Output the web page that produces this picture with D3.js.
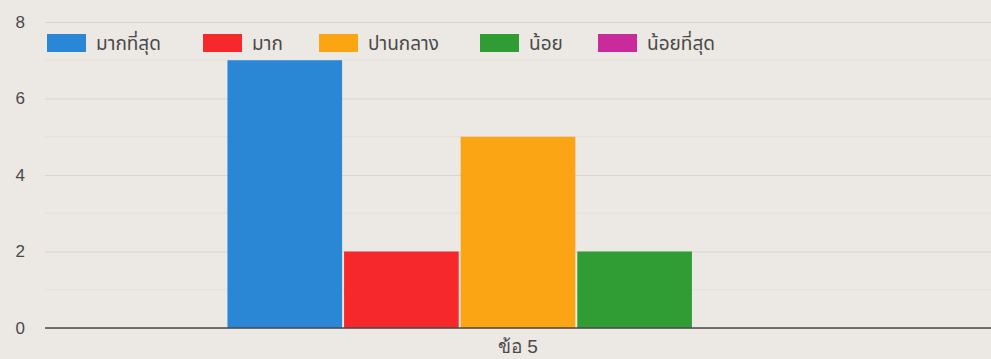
<!DOCTYPE html>
<html><head><meta charset="utf-8">
<script src="https://cdn.jsdelivr.net/npm/d3@7"></script>
<style>
html,body{margin:0;padding:0;background:#ece8e3;}
svg{display:block;font-family:"Noto Sans Thai","Noto Sans","Liberation Sans",sans-serif;}
</style></head><body>
<svg id="c" width="991" height="359"></svg>
<script>
const categories = ["ข้อ 5"];
const seriesNames = ["มากที่สุด","มาก","ปานกลาง","น้อย","น้อยที่สุด"];
const seriesValues = [[7],[2],[5],[2],[0]];
const seriesColors = ["#2a87d6","#f7282c","#fca514","#2f9c34","#c92a9c"];
const yTicks = [0,2,4,6,8];
const yMinorTicks = [1,3,5,7];

const svg = d3.select("#c");
const m = {left:45, right:0, top:22, bottom:31};
const W = 991, H = 359;
const y = d3.scaleLinear().domain([0,8]).range([328, 22]);
const x0 = d3.scaleBand().domain(categories).range([m.left, W]).paddingInner(0).paddingOuter(0.314);
const x1 = d3.scaleBand().domain(seriesNames).range([0, x0.bandwidth()]).paddingInner(0.017);

// minor grid
svg.append("g").selectAll("line").data(yMinorTicks).join("line")
  .attr("x1", m.left).attr("x2", W).attr("y1", d=>y(d)).attr("y2", d=>y(d))
  .attr("stroke","#e3dfda").attr("stroke-width",1);
// major grid
const yAxis = d3.axisLeft(y).tickValues(yTicks).tickSize(-(W-m.left)).tickPadding(14);
const ga = svg.append("g").attr("transform",`translate(${m.left},0)`).call(yAxis);
ga.select(".domain").remove();
ga.selectAll(".tick line").attr("stroke","#d8d4cf").attr("stroke-width",1);
ga.selectAll(".tick text").attr("fill","#4a4a4a").attr("font-size",17).attr("x",-20);

// bars
const g = svg.append("g");
categories.forEach((c,ci)=>{
  g.selectAll(null).data(seriesNames).join("rect")
    .attr("x", d=>x0(c)+x1(d))
    .attr("width", x1.bandwidth())
    .attr("y", (d,i)=>y(seriesValues[i][ci]))
    .attr("height",(d,i)=>y(0)-y(seriesValues[i][ci]))
    .attr("fill",(d,i)=>seriesColors[i]);
});

// baseline
svg.append("line").attr("x1",m.left).attr("x2",W).attr("y1",y(0)).attr("y2",y(0))
  .attr("stroke","#4a4a4a").attr("stroke-width",1.5);

// x axis labels
const xAxis = d3.axisBottom(x0).tickSize(0).tickPadding(12);
const gx = svg.append("g").attr("transform",`translate(0,${y(0)})`).call(xAxis);
gx.select(".domain").remove();
gx.selectAll("text").attr("fill","#4a4a4a").attr("font-size",19);

// legend
const legX = [47,203,319,480,598];
const lg = svg.append("g");
seriesNames.forEach((n,i)=>{
  lg.append("rect").attr("x",legX[i]).attr("y",34).attr("width",39).attr("height",18).attr("fill",seriesColors[i]);
  lg.append("text").attr("x",legX[i]+49).attr("y",50).attr("font-size",19).attr("fill","#4a4a4a").text(n);
});
</script>
</body></html>
